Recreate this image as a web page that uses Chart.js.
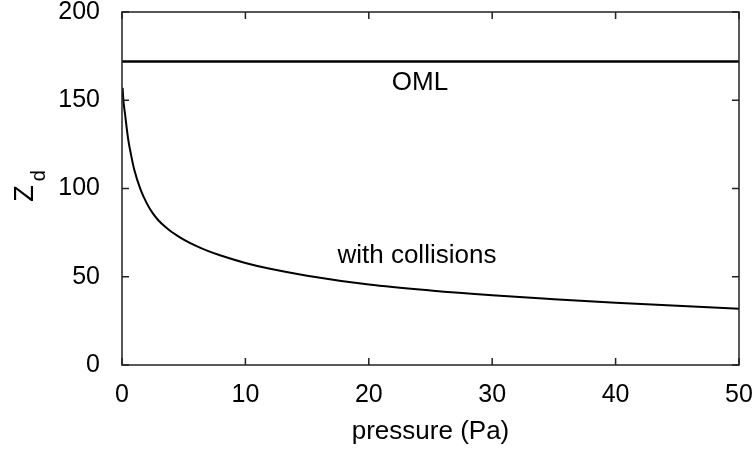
<!DOCTYPE html>
<html>
<head>
<meta charset="utf-8">
<script src="https://cdn.jsdelivr.net/npm/chart.js@4/dist/chart.umd.min.js"></script>
<style>
  html, body { margin:0; padding:0; background:#fff; }
  #wrap { width:753px; height:450px; }
</style>
</head>
<body>
<div id="wrap"><canvas id="zd" width="753" height="450"></canvas></div>
<script>
// --------- DATA ----------
const pressure = [0.05, 0.1, 0.25, 0.5, 0.75, 1, 1.5, 2, 2.5, 3, 3.5, 4, 4.5, 5, 6, 7, 8, 10, 12, 15, 20, 25, 30, 35, 40, 45, 50];
const zdCollisions = [157, 151, 142, 128, 118.5, 110.5, 99.5, 91.7, 85.9, 81.6, 78.3, 75.5, 73.2, 71.1, 67.5, 64.5, 62, 57.8, 54.5, 50.6, 45.6, 42.2, 39.5, 37.3, 35.3, 33.5, 31.9];
const omlPressure = [0, 50];
const omlZd = [172, 172];
const xTickStep = 10;
const yTickStep = 50;
const labels = [
  {text:'OML', x:24.15, y:155.8},
  {text:'with collisions', x:23.9, y:57.8}
];

const FONT = 'Liberation Sans, Arial, Helvetica, sans-serif';
const toPts = (xs, ys) => xs.map((x, i) => ({x, y: ys[i]}));

// --------- PLUGIN: box, inner ticks, labels, y title ----------
const frame = {
  id:'frame',
  afterDraw(chart){
    const {ctx, chartArea:a, scales:{x, y}} = chart;
    ctx.save();
    ctx.strokeStyle = '#222';
    ctx.lineWidth = 1.5;
    ctx.strokeRect(a.left, a.top, a.right - a.left, a.bottom - a.top);
    const tl = 7;
    ctx.beginPath();
    x.ticks.forEach(t => {
      const px = x.getPixelForValue(t.value);
      ctx.moveTo(px, a.bottom); ctx.lineTo(px, a.bottom - tl);
      ctx.moveTo(px, a.top); ctx.lineTo(px, a.top + tl);
    });
    y.ticks.forEach(t => {
      const py = y.getPixelForValue(t.value);
      ctx.moveTo(a.left, py); ctx.lineTo(a.left + tl, py);
      ctx.moveTo(a.right, py); ctx.lineTo(a.right - tl, py);
    });
    ctx.stroke();

    ctx.fillStyle = '#000';
    ctx.font = '26px ' + FONT;
    ctx.textAlign = 'center';
    ctx.textBaseline = 'alphabetic';
    labels.forEach(l => ctx.fillText(l.text, x.getPixelForValue(l.x), y.getPixelForValue(l.y)));

    // y title: Z with subscript d, rotated
    ctx.translate(33, (a.top + a.bottom) / 2 + 5);
    ctx.rotate(-Math.PI / 2);
    ctx.textAlign = 'left';
    ctx.font = '27px ' + FONT;
    const wz = ctx.measureText('Z').width;
    ctx.fillText('Z', -wz / 2, 0);
    ctx.font = '20px ' + FONT;
    ctx.fillText('d', wz / 2 + 4, 12);
    ctx.restore();
  }
};

// --------- CHART ----------
new Chart(document.getElementById('zd'), {
  type:'line',
  data:{
    datasets:[
      {label:'with collisions', data:toPts(pressure, zdCollisions), borderColor:'#000', borderWidth:2,
       pointRadius:0, fill:false, cubicInterpolationMode:'monotone'},
      {label:'OML', data:toPts(omlPressure, omlZd), borderColor:'#000', borderWidth:2.5,
       pointRadius:0, fill:false}
    ]
  },
  options:{
    responsive:false,
    animation:false,
    layout:{padding:{top:12, right:14, left:0, bottom:0}},
    plugins:{legend:{display:false}, tooltip:{enabled:false}},
    scales:{
      x:{
        type:'linear', min:0, max:50,
        grid:{display:false, drawTicks:false}, border:{display:false},
        ticks:{stepSize:xTickStep, color:'#000', padding:15, font:{family:FONT, size:25}},
        title:{display:true, text:'pressure (Pa)', color:'#000', padding:{top:0, bottom:3}, font:{family:FONT, size:26}},
        afterFit(s){ s.height = 85; s.paddingLeft = 0; s.paddingRight = 0; }
      },
      y:{
        min:0, max:200,
        grid:{display:false, drawTicks:false}, border:{display:false},
        ticks:{stepSize:yTickStep, color:'#000', padding:22, font:{family:FONT, size:25}},
        afterFit(s){ s.width = 122; s.paddingTop = 0; s.paddingBottom = 0; }
      }
    }
  },
  plugins:[frame]
});
</script>
</body>
</html>
